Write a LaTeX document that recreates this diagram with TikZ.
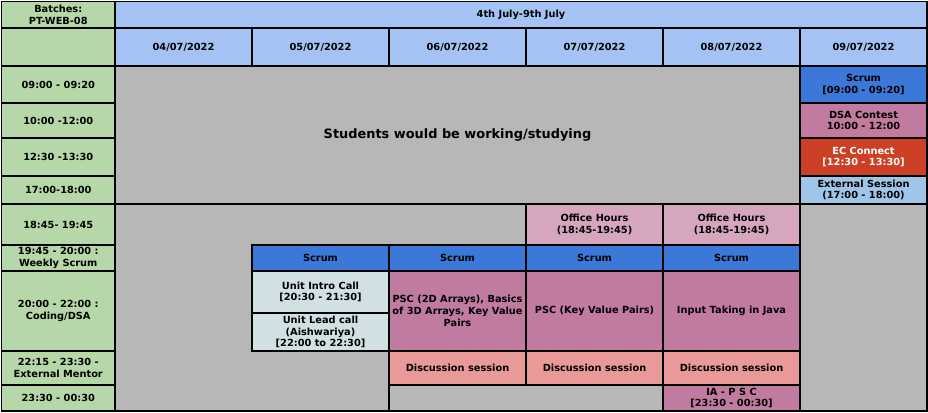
\documentclass[tikz,border=0pt]{standalone}
\usepackage{fontspec}
\setmainfont{DejaVu Sans}
\usepackage{tikz}

\definecolor{rowgreen}{HTML}{B6D7A8}
\definecolor{headblue}{HTML}{A4C2F4}
\definecolor{freegray}{HTML}{B7B7B7}
\definecolor{scrumblue}{HTML}{3C78D8}
\definecolor{topicmauve}{HTML}{C27BA0}
\definecolor{officepink}{HTML}{D5A6BD}
\definecolor{ecred}{HTML}{CC4125}
\definecolor{extblue}{HTML}{9FC5E8}
\definecolor{unitcyan}{HTML}{D0E0E3}
\definecolor{discrose}{HTML}{EA9999}

\begin{document}
\begin{tikzpicture}[x=1pt, y=-1pt,
    cell/.style={draw=black, line width=1.2pt, anchor=north west, outer sep=0pt, inner sep=1pt, align=center, text=black, font=\fontsize{9.8}{11.7}\selectfont\bfseries},
    timecell/.style={cell, fill=rowgreen, minimum width=113.5},
    head/.style={cell, fill=headblue, minimum height=38},
    free/.style={cell, fill=freegray},
    scrum/.style={cell, fill=scrumblue},
    topic/.style={cell, fill=topicmauve},
    office/.style={cell, fill=officepink},
    unit/.style={cell, fill=unitcyan, minimum width=137},
    discuss/.style={cell, fill=discrose, minimum width=137, minimum height=34}]

    \useasboundingbox (0,0) rectangle (928,412);

    % header
    \node (batch) [timecell, minimum height=26.5] at (1.5,1.5) {Batches:\\PT-WEB-08};
    \node (week) [head, minimum width=812, minimum height=26.5] at (115,1.5) {4th July-9th July};
    \node (corner) [timecell, minimum height=38] at (1.5,28) {};
    \node (d04) [head, minimum width=137] at (115,28) {04/07/2022};
    \node (d05) [head, minimum width=137] at (252,28) {05/07/2022};
    \node (d06) [head, minimum width=137] at (389,28) {06/07/2022};
    \node (d07) [head, minimum width=137] at (526,28) {07/07/2022};
    \node (d08) [head, minimum width=137] at (663,28) {08/07/2022};
    \node (d09) [head, minimum width=127] at (800,28) {09/07/2022};

    % time slots
    \node (t1) [timecell, minimum height=37] at (1.5,66) {09:00 - 09:20};
    \node (t2) [timecell, minimum height=35] at (1.5,103) {10:00 -12:00};
    \node (t3) [timecell, minimum height=38] at (1.5,138) {12:30 -13:30};
    \node (t4) [timecell, minimum height=28] at (1.5,176) {17:00-18:00};
    \node (t5) [timecell, minimum height=41] at (1.5,204) {18:45- 19:45};
    \node (t6) [timecell, minimum height=26] at (1.5,245) {19:45 - 20:00 :\\Weekly Scrum};
    \node (t7) [timecell, minimum height=80] at (1.5,271) {20:00 - 22:00 :\\Coding/DSA};
    \node (t8) [timecell, minimum height=34] at (1.5,351) {22:15 - 23:30 -\\External Mentor};
    \node (t9) [timecell, minimum height=26] at (1.5,385) {23:30 - 00:30};

    % free time
    \node (gray) [free, minimum width=812, minimum height=345] at (115,66) {};
    \node (work) [free, minimum width=685, minimum height=138, font=\fontsize{12.9}{15}\selectfont\bfseries] at (115,66) {Students would be working/studying};
    \node (gap) [free, minimum width=274, minimum height=26] at (389,385) {};

    % saturday
    \node (satscrum) [scrum, minimum width=127, minimum height=37] at (800,66) {Scrum\\{[09:00 - 09:20]}};
    \node (contest) [topic, minimum width=127, minimum height=35] at (800,103) {DSA Contest\\10:00 - 12:00};
    \node (ecconnect) [cell, fill=ecred, text=white, minimum width=127, minimum height=38] at (800,138) {EC Connect\\{[12:30 - 13:30]}};
    \node (external) [cell, fill=extblue, minimum width=127, minimum height=28] at (800,176) {External Session\\(17:00 - 18:00)};

    % evenings
    \node (office7) [office, minimum width=137, minimum height=41] at (526,204) {Office Hours\\(18:45-19:45)};
    \node (office8) [office, minimum width=137, minimum height=41] at (663,204) {Office Hours\\(18:45-19:45)};
    \node (scrum5) [scrum, minimum width=137, minimum height=26] at (252,245) {Scrum};
    \node (scrum6) [scrum, minimum width=137, minimum height=26] at (389,245) {Scrum};
    \node (scrum7) [scrum, minimum width=137, minimum height=26] at (526,245) {Scrum};
    \node (scrum8) [scrum, minimum width=137, minimum height=26] at (663,245) {Scrum};
    \node (intro) [unit, minimum height=42] at (252,271) {Unit Intro Call\\{[20:30 - 21:30]}};
    \node (lead) [unit, minimum height=38] at (252,313) {Unit Lead call\\(Aishwariya)\\{[22:00 to 22:30]}};
    \node (psc6) [topic, minimum width=137, minimum height=80] at (389,271) {PSC (2D Arrays), Basics\\of 3D Arrays, Key Value\\Pairs};
    \node (psc7) [topic, minimum width=137, minimum height=80] at (526,271) {PSC (Key Value Pairs)};
    \node (java8) [topic, minimum width=137, minimum height=80] at (663,271) {Input Taking in Java};
    \node (disc6) [discuss] at (389,351) {Discussion session};
    \node (disc7) [discuss] at (526,351) {Discussion session};
    \node (disc8) [discuss] at (663,351) {Discussion session};
    \node (iapsc) [topic, minimum width=137, minimum height=26] at (663,385) {IA - P S C\\{[23:30 - 00:30]}};

\end{tikzpicture}
\end{document}
